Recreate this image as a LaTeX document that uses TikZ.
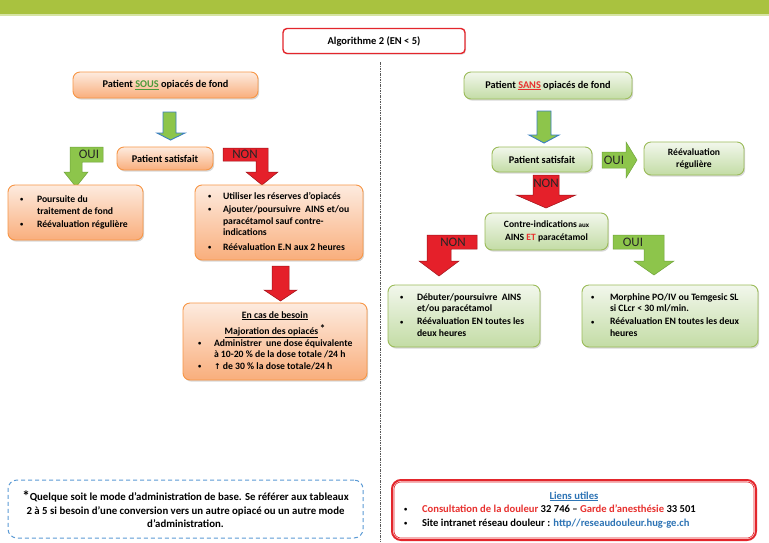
\documentclass[tikz,border=0pt]{standalone}
\usepackage{fontspec}
\setmainfont{Carlito}
\newfontfamily\djvb{DejaVu Sans Bold}
\usetikzlibrary{shadows,calc}
\definecolor{barG}{HTML}{A9C23F}
\definecolor{barL}{HTML}{D6E4A4}
\definecolor{orB}{HTML}{F79646}
\definecolor{orT}{HTML}{FDEBDF}
\definecolor{orBot}{HTML}{F9AE7C}
\definecolor{grB}{HTML}{9BBB59}
\definecolor{grT}{HTML}{F2F7EC}
\definecolor{grBot}{HTML}{C3DCA5}
\definecolor{arG}{HTML}{8DC54B}
\definecolor{arGB}{HTML}{6FA33A}
\definecolor{arBlue}{HTML}{3A7FC1}
\definecolor{arR}{HTML}{E5202A}
\definecolor{arRB}{HTML}{9E1219}
\definecolor{titR}{HTML}{E3262C}
\definecolor{txtG}{HTML}{4E9A3A}
\definecolor{txtR}{HTML}{E8312F}
\definecolor{lnkB}{HTML}{2E74B5}
\definecolor{dashB}{HTML}{5B9BD5}
\newcommand{\lbox}[2]{\makebox[#1][l]{\raisebox{-3pt}{#2}}}
\newcommand{\bul}{\raisebox{0.8pt}{\fontsize{6.5}{6.5}\selectfont\textbullet}}
\tikzset{
  basebox/.style={line width=0.9pt, rounded corners=7pt, inner ysep=0pt,
    drop shadow={shadow xshift=1.2pt,shadow yshift=-1.6pt,opacity=0.3}},
  orbox/.style={basebox, draw=orB, top color=orT, bottom color=orBot},
  grbox/.style={basebox, draw=grB, top color=grT, bottom color=grBot},
  headtxt/.style={font=\bfseries\fontsize{10.3}{12}\selectfont, align=center},
  listtxt/.style={font=\bfseries\fontsize{9.7}{11.5}\selectfont},
  arrtxt/.style={font=\fontsize{13}{13}\selectfont, text=black!85, inner sep=0pt},
  garrow/.style={fill=arG, draw=arBlue, line width=0.9pt},
  gbent/.style={fill=arG, draw=arGB, line width=0.5pt},
  rarrow/.style={fill=arR, draw=arRB, line width=0.5pt},
}
\begin{document}
\begin{tikzpicture}[x=1pt,y=-1pt]
\useasboundingbox (0,0) rectangle (769,542);
\fill[white] (0,0) rectangle (769,542);
% top bar
\fill[barG] (0,0) rectangle (769,14);
\fill[barL] (0,14) rectangle (769,16);
% divider
\coordinate (dtop) at (380,62);
\coordinate (dbot) at (380,542);
\draw[black!65, line width=0.6pt, dash pattern=on 2.5pt off 1.2pt on 0.6pt off 1.2pt] (dtop) -- (dbot);
% title
\node[draw=titR, line width=1.4pt, rounded corners=4pt, fill=white, minimum width=182pt, minimum height=25pt, inner sep=0pt,
  drop shadow={shadow xshift=1pt,shadow yshift=-1.2pt,opacity=0.2},
  font=\bfseries\fontsize{10.5}{12}\selectfont] (title) at (374,41) {Algorithme 2 (EN < 5)};

% ---------- left column ----------
\node[orbox, headtxt, minimum width=185pt, minimum height=26pt] (sous) at (165.5,85)
  {Patient \textcolor{txtG}{\underline{SOUS}} opiacés de fond};
\draw[garrow] (163,112) -- (176,112) -- (176,133) -- (185,133) -- (170.5,140) -- (157,133) -- (163,133) -- cycle;
\node[orbox, headtxt, minimum width=96pt, minimum height=23pt] (sat1) at (165,158.5) {Patient satisfait};
% OUI bent arrow
\draw[gbent] (70,147) -- (103,147) -- (103,162) -- (82,162) -- (82,172) -- (88,172) -- (76,187) -- (64,172) -- (70,172) -- cycle;
\node[arrtxt] (oui1) at (89,154.5) {OUI};
% NON bent arrow
\draw[rarrow] (223,148) -- (268,148) -- (268,172) -- (278,172) -- (262,185) -- (246,172) -- (256,172) -- (256,161) -- (223,161) -- cycle;
\node[arrtxt] (non1) at (245,154.5) {NON};

\node[orbox, listtxt, minimum width=135pt, minimum height=55pt, inner xsep=12pt] (pours) at (75.5,212.5)
 {\lbox{111pt}{\begin{tabular}{@{}p{17pt}@{}l@{}}
 \bul & Poursuite du\\
  & traitement de fond\\[1.5pt]
 \bul & Réévaluation régulière
 \end{tabular}}};
\node[orbox, listtxt, minimum width=168pt, minimum height=75pt, inner xsep=13pt] (util) at (279,222.5)
 {\lbox{142pt}{\begin{tabular}{@{}p{15pt}@{}l@{}}
 \bul & Utiliser les réserves d’opiacés\\[1.5pt]
 \bul & Ajouter/poursuivre\ \ AINS et/ou\\
  & paracétamol sauf contre-\\
  & indications\\[3pt]
 \bul & Réévaluation E.N aux 2 heures
 \end{tabular}}};
\draw[rarrow] (272,266) -- (289,266) -- (289,290) -- (297,290) -- (280.5,301) -- (264,290) -- (272,290) -- cycle;
\node[orbox, listtxt, minimum width=184pt, minimum height=77pt, inner xsep=15pt] (besoin) at (275,341.5)
 {\makebox[154pt][l]{\raisebox{-4pt}{\begin{tabular}{@{}p{16pt}@{}l@{}}
 \multicolumn{2}{@{}l@{}}{\makebox[154pt]{\underline{En cas de besoin}}}\\[3pt]
 \multicolumn{2}{@{}l@{}}{\makebox[154pt]{\underline{Majoration des opiacés}\,\raisebox{2pt}{\fontsize{11}{11}\selectfont *}}}\\[0.5pt]
 \bul & Administrer\ \ une dose équivalente\\
  & à 10-20 \% de la dose totale /24 h\\
 \bul & {\djvb\fontsize{8}{8}\selectfont ↑} de 30 \% la dose totale/24 h
 \end{tabular}}}};

% ---------- right column ----------
\node[grbox, headtxt, minimum width=168pt, minimum height=27pt] (sans) at (548,85.5)
  {Patient \textcolor{txtR}{\underline{SANS}} opiacés de fond};
\draw[garrow] (537,111) -- (551,111) -- (551,135) -- (559,135) -- (544,143) -- (529,135) -- (537,135) -- cycle;
\node[grbox, headtxt, minimum width=100pt, minimum height=25pt] (sat2) at (542,159.5) {Patient satisfait};
\draw[gbent] (602,152) -- (626,152) -- (626,142) -- (637,160) -- (626,178) -- (626,168) -- (602,168) -- cycle;
\node[arrtxt] (oui2) at (614,160) {OUI};
\node[grbox, headtxt, minimum width=100pt, minimum height=33pt, font=\bfseries\fontsize{9.6}{12}\selectfont] (reeval) at (694,158.5) {Réévaluation\\régulière};
\draw[rarrow] (533,175) -- (559,175) -- (559,195) -- (576,195) -- (546,208) -- (516,195) -- (533,195) -- cycle;
\node[arrtxt] (non2) at (546,183) {NON};
\node[grbox, headtxt, minimum width=123pt, minimum height=37pt, font=\bfseries\fontsize{9.6}{13}\selectfont] (contre) at (546.5,231.5)
  {\raisebox{-3pt}{\begin{tabular}{@{}c@{}}Contre-indications{\fontsize{7}{7}\selectfont\ aux}\\AINS \textcolor{txtR}{ET} paracétamol\end{tabular}}};
% NON bent left
\draw[rarrow] (477,235) -- (477,249) -- (451,249) -- (451,261) -- (459,261) -- (439,276) -- (419,261) -- (427,261) -- (427,235) -- cycle;
\node[arrtxt] (non3) at (453,242) {NON};
% OUI bent right
\draw[gbent] (613,235) -- (664,235) -- (664,261) -- (674,261) -- (654,275) -- (634,261) -- (644,261) -- (644,249) -- (613,249) -- cycle;
\node[arrtxt] (oui3) at (633,242) {OUI};

\node[grbox, listtxt, minimum width=152pt, minimum height=62pt, inner xsep=12pt] (debut) at (464,316)
 {\lbox{128pt}{\begin{tabular}{@{}p{17pt}@{}l@{}}
 \bul & Débuter/poursuivre\ \ AINS\\
  & et/ou paracétamol\\[1.5pt]
 \bul & Réévaluation EN toutes les\\
  & deux heures
 \end{tabular}}};
\node[grbox, listtxt, minimum width=176pt, minimum height=62pt, inner xsep=9pt] (morph) at (670,316)
 {\lbox{158pt}{\begin{tabular}{@{}p{19pt}@{}l@{}}
 \bul & Morphine PO/IV ou Temgesic SL\\
  & si CLcr < 30 ml/min.\\[1.5pt]
 \bul & Réévaluation EN toutes les deux\\
  & heures
 \end{tabular}}};

% ---------- bottom ----------
\node[draw=dashB, line width=1pt, dash pattern=on 4pt off 3pt, rounded corners=9pt, minimum width=355pt, minimum height=58pt,
  inner sep=0pt, align=center, font=\bfseries\fontsize{10.8}{13.5}\selectfont] (foot) at (185.5,509)
  {\raisebox{-0.5pt}{\fontsize{15}{15}\selectfont *}Quelque soit le mode d’administration de base. Se référer aux tableaux\\
   2 à 5 si besoin d’une conversion vers un autre opiacé ou un autre mode\\
   d’administration.};
\node[draw=titR, line width=2pt, rounded corners=9pt, fill=white, minimum width=364pt, minimum height=60pt,
  inner xsep=12pt, inner ysep=0pt, font=\bfseries\fontsize{10.6}{13.5}\selectfont] (liens) at (574,510)
 {\makebox[340pt][l]{\raisebox{-1pt}{\begin{tabular}{@{}p{18pt}@{}l@{}}
 \multicolumn{2}{@{}l@{}}{\makebox[340pt]{\textcolor{lnkB}{\underline{Liens utiles}}}}\\
 \bul & \textcolor{txtR}{Consultation de la douleur} 32 746 – \textcolor{txtR}{Garde d’anesthésie} 33 501\\
 \bul & Site intranet réseau douleur : \textcolor{lnkB}{http//reseaudouleur.hug-ge.ch}
 \end{tabular}}}};
\draw[titR, line width=0.6pt, rounded corners=7pt] ([shift={(3pt,-3pt)}]liens.north west) rectangle ([shift={(-3pt,3pt)}]liens.south east);
\end{tikzpicture}
\end{document}
